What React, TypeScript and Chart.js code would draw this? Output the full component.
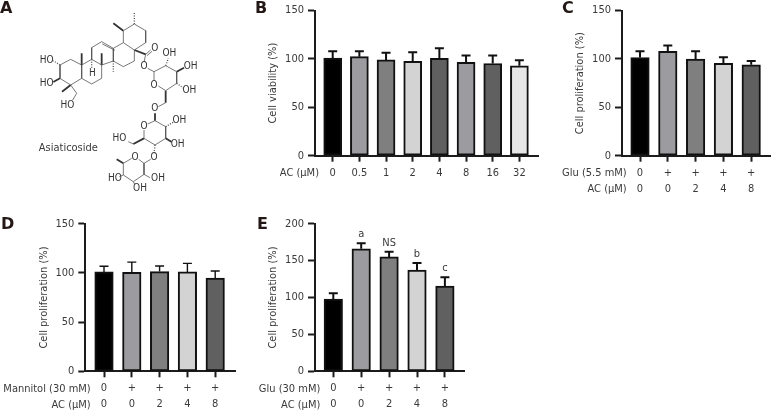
import React, { useEffect, useRef } from "react";
import { Chart, registerables } from "chart.js";

Chart.register(...registerables);

const FONT = '"DejaVu Sans Condensed", "Noto Sans", sans-serif';
const TEXT = "#3a3a3a";
const INK = "#1c1c1c";

const fillsB = ["#000000", "#9c9ca0", "#7f7f7f", "#d3d3d3", "#606060", "#9c9ca0", "#606060", "#e6e6e6"];
const fillsFive = ["#000000", "#9c9ca0", "#7f7f7f", "#d3d3d3", "#606060"];

const doseB = ["0", "0.5", "1", "2", "4", "8", "16", "32"];
const valuesB = [101, 102.4, 99, 97.6, 100.7, 96.6, 95.3, 93];
const errorsB = [108, 108, 106.4, 107, 111, 103.7, 103.7, 98.6];

const treatC = ["0", "+", "+", "+", "+"];
const doseC = ["0", "0", "2", "4", "8"];
const valuesC = [101.4, 108, 100, 95.6, 94];
const errorsC = [108, 114, 108, 101.7, 98];

const treatD = ["0", "+", "+", "+", "+"];
const doseD = ["0", "0", "2", "4", "8"];
const valuesD = [101, 100.6, 101.3, 101, 94.8];
const errorsD = [106.7, 111, 107, 109.7, 102];

const treatE = ["0", "+", "+", "+", "+"];
const doseE = ["0", "0", "2", "4", "8"];
const valuesE = [98, 166, 155, 137, 115.6];
const errorsE = [105.6, 173.4, 162, 146.7, 127.3];
const marksE = ["", "a", "NS", "b", "c"];

type Panel = {
  letter: string; letterX: number; letterY: number;
  box: [number, number, number, number];
  axisLeft: number; axisRight: number; axisTop: number; axisBottom: number;
  firstCenter: number; spacing: number; barWidth: number;
  yMax: number; yTitle: string; titleX: number;
  rows: string[][]; rowNames: string[]; rowRight: number;
  values: number[]; errors: number[]; fills: string[]; marks?: string[]; errWidth: number;
};

const panels: Panel[] = [
  {
    letter: "B", letterX: 255, letterY: 9, box: [240, 0, 305, 205],
    axisLeft: 315, axisRight: 538, axisTop: 8, axisBottom: 155.7,
    firstCenter: 332.7, spacing: 26.67, barWidth: 18,
    yMax: 150, yTitle: "Cell viability (%)", titleX: 273,
    rows: [doseB], rowNames: ["AC (µM)"], rowRight: 319,
    values: valuesB, errors: errorsB, fills: fillsB, errWidth: 2,
  },
  {
    letter: "C", letterX: 562, letterY: 9, box: [550, 0, 221, 205],
    axisLeft: 622, axisRight: 771, axisTop: 8.3, axisBottom: 155.7,
    firstCenter: 640, spacing: 27.8, barWidth: 18.5,
    yMax: 150, yTitle: "Cell proliferation (%)", titleX: 580,
    rows: [treatC, doseC], rowNames: ["Glu (5.5 mM)", "AC (µM)"], rowRight: 626.7,
    values: valuesC, errors: errorsC, fills: fillsFive, errWidth: 2,
  },
  {
    letter: "D", letterX: 1, letterY: 225, box: [0, 210, 240, 203],
    axisLeft: 85.3, axisRight: 235, axisTop: 223.7, axisBottom: 371.3,
    firstCenter: 104, spacing: 27.8, barWidth: 18.5,
    yMax: 150, yTitle: "Cell proliferation (%)", titleX: 43.7,
    rows: [treatD, doseD], rowNames: ["Mannitol (30 mM)", "AC (µM)"], rowRight: 90.7,
    values: valuesD, errors: errorsD, fills: fillsFive, errWidth: 1.4,
  },
  {
    letter: "E", letterX: 257, letterY: 225, box: [250, 210, 220, 203],
    axisLeft: 315, axisRight: 464, axisTop: 223.7, axisBottom: 371.3,
    firstCenter: 333.3, spacing: 27.9, barWidth: 18.5,
    yMax: 200, yTitle: "Cell proliferation (%)", titleX: 273.3,
    rows: [treatE, doseE], rowNames: ["Glu (30 mM)", "AC (µM)"], rowRight: 320.3,
    values: valuesE, errors: errorsE, fills: fillsFive, marks: marksE, errWidth: 2,
  },
];

const SIZE = 11;

function BarPanel({ p }: { p: Panel }) {
  const ref = useRef<HTMLCanvasElement>(null);
  useEffect(() => {
    const [bx, by, bw, bh] = p.box;
    const titleLine = 14;
    const overlay = {
      id: "overlay",
      afterDatasetsDraw(chart: any) {
        const { ctx, scales } = chart;
        ctx.save();
        ctx.strokeStyle = "#111";
        ctx.lineWidth = p.errWidth;
        p.values.forEach((v, i) => {
          const x = scales.x.getPixelForValue(i);
          const y0 = scales.y.getPixelForValue(v);
          const y1 = scales.y.getPixelForValue(p.errors[i]);
          ctx.beginPath();
          ctx.moveTo(x, y0);
          ctx.lineTo(x, y1);
          ctx.moveTo(x - 4.5, y1);
          ctx.lineTo(x + 4.5, y1);
          ctx.stroke();
          const mark = p.marks?.[i];
          if (mark) {
            ctx.fillStyle = TEXT;
            ctx.font = `${SIZE}px ${FONT}`;
            ctx.textAlign = "center";
            ctx.textBaseline = "middle";
            ctx.fillText(mark, x, y1 - 9);
          }
        });
        ctx.fillStyle = TEXT;
        ctx.font = `${SIZE}px ${FONT}`;
        ctx.textAlign = "right";
        ctx.textBaseline = "middle";
        p.rowNames.forEach((name, r) => {
          ctx.fillText(name, p.rowRight - bx, p.axisBottom + 17.5 + r * 16 - by);
        });
        ctx.fillStyle = "#231815";
        ctx.font = `bold 16px "DejaVu Sans", sans-serif`;
        ctx.textAlign = "left";
        ctx.fillText(p.letter, p.letterX - bx, p.letterY - by);
        ctx.restore();
      },
    };
    const chart = new Chart(ref.current!, {
      type: "bar",
      plugins: [overlay],
      data: {
        datasets: [
          {
            data: p.values.map((v, i) => ({ x: i, y: v })),
            backgroundColor: p.fills,
            borderColor: "#111",
            borderWidth: 2,
            borderSkipped: false,
            barThickness: p.barWidth,
          } as any,
        ],
      },
      options: {
        animation: false,
        responsive: false,
        layout: {
          padding: {
            top: p.axisTop - by,
            right: bx + bw - p.axisRight,
            left: 0,
            bottom: 0,
          },
        },
        plugins: { legend: { display: false }, tooltip: { enabled: false } },
        scales: {
          x: {
            type: "linear",
            offset: false,
            bounds: "data",
            min: (p.axisLeft - p.firstCenter) / p.spacing,
            max: (p.axisRight - p.firstCenter) / p.spacing,
            afterBuildTicks: (axis: any) => {
              axis.ticks = p.values.map((_, i) => ({ value: i }));
            },
            afterFit: (axis: any) => {
              axis.height = by + bh - p.axisBottom;
            },
            border: { color: INK, width: 2 },
            grid: { offset: false, drawOnChartArea: false, drawTicks: true, tickLength: 6, tickWidth: 2, tickColor: INK },
            ticks: {
              color: TEXT,
              font: { family: FONT, size: SIZE, lineHeight: "16px" },
              padding: 3,
              autoSkip: false,
              maxRotation: 0,
              minRotation: 0,
              callback: (_: any, i: number) => {
                const lines = p.rows.map((row) => row[i]);
                return lines.length > 1 ? lines : lines[0];
              },
            },
          },
          y: {
            type: "linear",
            min: 0,
            max: p.yMax,
            afterFit: (axis: any) => {
              axis.width = p.axisLeft - bx;
            },
            border: { color: INK, width: 2 },
            grid: { drawOnChartArea: false, drawTicks: true, tickLength: 7, tickWidth: 2, tickColor: INK },
            ticks: {
              color: TEXT,
              font: { family: FONT, size: SIZE },
              padding: 4,
              stepSize: 50,
            },
            title: {
              display: true,
              text: p.yTitle,
              color: TEXT,
              font: { family: FONT, size: SIZE, lineHeight: `${titleLine}px` },
              padding: { top: p.titleX - bx - titleLine / 2, bottom: 0 },
            },
          },
        },
      } as any,
    });
    return () => chart.destroy();
  }, [p]);
  const [bx, by, bw, bh] = p.box;
  return (
    <canvas
      ref={ref}
      width={bw}
      height={bh}
      style={{ position: "absolute", left: bx, top: by, width: bw, height: bh }}
    />
  );
}

const plainBonds = [
  [403, 72, 437, 92], [437, 92, 437, 128], [437, 128, 403, 150], [403, 150, 370, 128], [370, 128, 370, 92], [370, 92, 403, 72],
  [370, 128, 340, 145], [340, 145, 340, 183], [340, 183, 370, 200], [370, 200, 403, 183], [403, 183, 403, 150],
  [340, 145, 305, 125], [345, 151, 307, 132], [305, 125, 275, 143], [275, 143, 275, 178], [275, 178, 305, 195], [305, 195, 340, 183],
  [275, 178, 245, 195], [245, 195, 245, 235], [245, 235, 275, 252], [275, 252, 305, 235], [305, 235, 305, 195],
  [245, 195, 212, 178], [212, 178, 180, 195], [180, 195, 180, 235], [180, 235, 212, 255], [212, 255, 245, 235],
  [212, 255, 230, 280], [230, 280, 218, 300],
  [437, 163, 452, 150], [441, 167, 456, 154], [437, 163, 432, 187], [443, 205, 462, 215],
  [462, 215, 497, 197], [497, 197, 530, 215], [530, 215, 530, 250], [530, 250, 497, 272], [497, 272, 475, 258], [462, 243, 462, 215],
  [497, 308, 475, 320],
  [465, 362, 497, 380], [497, 380, 497, 415], [497, 415, 465, 435], [465, 435, 432, 415], [432, 415, 432, 390], [443, 372, 465, 362],
  [432, 490, 432, 523], [432, 523, 400, 545], [400, 545, 370, 525], [370, 525, 370, 490], [370, 490, 395, 475], [416, 478, 432, 490],
  [432, 490, 452, 478], [432, 523, 450, 533], [400, 545, 404, 553], [370, 525, 358, 530],
  [385, 425, 400, 432],
];
const wedgeBonds = [
  [370, 92, 340, 70], [245, 195, 245, 160], [305, 195, 305, 160], [180, 235, 160, 246], [212, 255, 186, 275],
  [403, 150, 437, 163], [530, 215, 552, 203], [497, 272, 497, 308], [465, 362, 465, 340], [497, 415, 515, 426],
  [432, 415, 400, 432], [370, 490, 350, 478],
];
const hashBonds = [
  [403, 72, 403, 35], [340, 183, 340, 215], [275, 178, 275, 205], [180, 195, 160, 182],
  [497, 197, 505, 175], [530, 250, 550, 264], [497, 380, 520, 367], [465, 435, 462, 460],
];
const atomLabels = [
  ["HO", 140, 180], ["HO", 140, 250], ["HO", 202, 315], ["H", 277, 219], ["O", 464, 145], ["O", 432, 199],
  ["OH", 508, 161], ["OH", 572, 198], ["O", 462, 255], ["OH", 568, 272], ["O", 464, 326], ["OH", 538, 362],
  ["O", 432, 378], ["HO", 358, 415], ["OH", 533, 432], ["O", 462, 472], ["O", 405, 472], ["OH", 474, 535],
  ["HO", 345, 535], ["OH", 420, 565],
];
const compoundName = "Asiaticoside";

const toPoints = (bonds: number[][]) =>
  bonds.flatMap(([x1, y1, x2, y2]) => [{ x: x1, y: y1 }, { x: x2, y: y2 }, { x: NaN, y: NaN }]);

function Molecule() {
  const ref = useRef<HTMLCanvasElement>(null);
  useEffect(() => {
    const labels = {
      id: "labels",
      afterDatasetsDraw(chart: any) {
        const { ctx, scales } = chart;
        ctx.save();
        ctx.fillStyle = "#333";
        ctx.font = `10px ${FONT}`;
        ctx.textAlign = "center";
        ctx.textBaseline = "middle";
        atomLabels.forEach(([t, x, y]) => {
          ctx.fillText(t as string, scales.x.getPixelForValue(x as number), scales.y.getPixelForValue(y as number));
        });
        ctx.font = `${SIZE}px ${FONT}`;
        ctx.fillStyle = TEXT;
        ctx.fillText(compoundName, scales.x.getPixelForValue(205), scales.y.getPixelForValue(443));
        ctx.fillStyle = "#231815";
        ctx.font = `bold 16px "DejaVu Sans", sans-serif`;
        ctx.textAlign = "left";
        ctx.fillText("A", 0, 9);
        ctx.restore();
      },
    };
    const line = { type: "scatter", showLine: true, pointRadius: 0, spanGaps: false, borderColor: "#555" };
    const chart = new Chart(ref.current!, {
      type: "scatter",
      plugins: [labels],
      data: {
        datasets: [
          { ...line, data: toPoints(plainBonds), borderWidth: 0.8 },
          { ...line, data: toPoints(wedgeBonds), borderWidth: 1.8, borderColor: "#333" },
          { ...line, data: toPoints(hashBonds), borderWidth: 1.4, borderDash: [1, 1.5] },
        ] as any,
      },
      options: {
        animation: false,
        responsive: false,
        layout: { padding: 0 },
        plugins: { legend: { display: false }, tooltip: { enabled: false } },
        scales: {
          x: { type: "linear", display: false, min: 0, max: 720 },
          y: { type: "linear", display: false, min: 0, max: 630, reverse: true },
        },
      } as any,
    });
    return () => chart.destroy();
  }, []);
  return (
    <canvas
      ref={ref}
      width={240}
      height={210}
      style={{ position: "absolute", left: 0, top: 0, width: 240, height: 210 }}
    />
  );
}

export default function App() {
  return (
    <div style={{ position: "absolute", left: 0, top: 0, width: 771, height: 413, background: "#fff", overflow: "hidden" }}>
      <Molecule />
      {panels.map((p) => (
        <BarPanel key={p.letter} p={p} />
      ))}
    </div>
  );
}
